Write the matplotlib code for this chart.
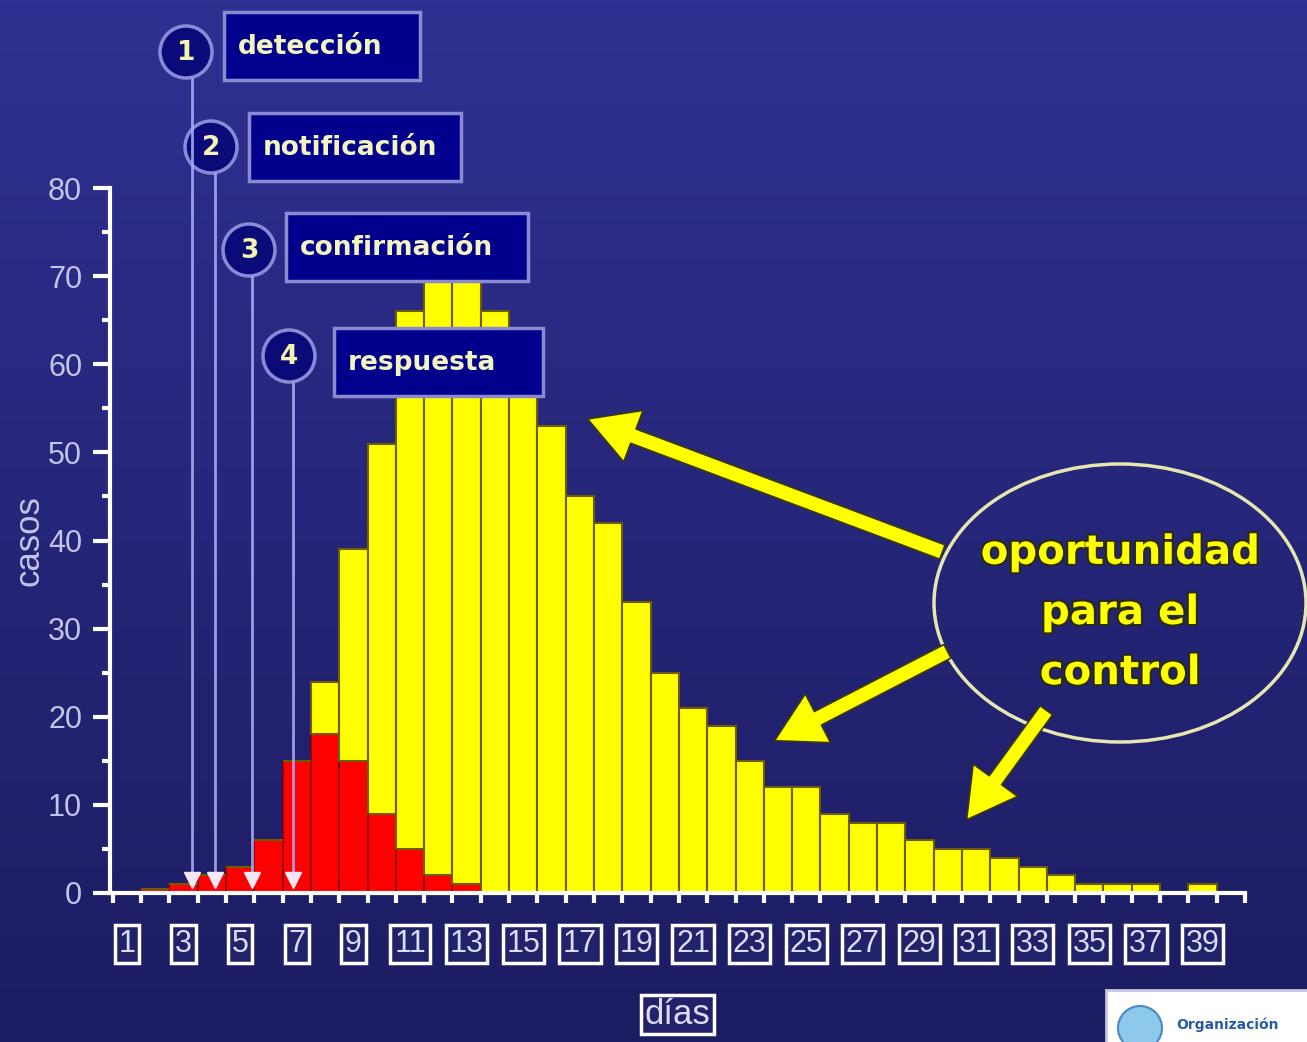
import matplotlib
matplotlib.use("Agg")
import matplotlib.pyplot as plt
import matplotlib.patches as mpatches
import matplotlib.patheffects as pe
import numpy as np

# datos: casos por dia
dias = list(range(1, 41))
casos_rojo = [0, 0.5, 1, 2, 3, 6, 15, 18, 15, 9, 5, 2, 1, 0, 0, 0, 0, 0, 0, 0,
              0, 0, 0, 0, 0, 0, 0, 0, 0, 0, 0, 0, 0, 0, 0, 0, 0, 0, 0, 0]
casos_total = [0, 0.5, 1, 2, 3, 6, 15, 24, 39, 51, 66, 71, 71, 66, 58, 53, 45, 42, 33, 25,
               21, 19, 15, 12, 12, 9, 8, 8, 6, 5, 5, 4, 3, 2, 1, 1, 1, 0, 1, 0]
casos_amarillo = [t - r for t, r in zip(casos_total, casos_rojo)]
etiquetas_x = [str(d) for d in range(1, 40, 2)]
pasos = ["detección", "notificación", "confirmación", "respuesta"]

W, H = 1307, 1042
fig = plt.figure(figsize=(W / 100, H / 100), dpi=100)

# fondo degradado
bg = fig.add_axes([0, 0, 1, 1], zorder=0)
grad = np.linspace(0, 1, 256).reshape(-1, 1)
top = np.array([0x30, 0x30, 0x92]) / 255
bot = np.array([0x1c, 0x1c, 0x62]) / 255
img = top[None, None, :] * (1 - grad[:, :, None]) + bot[None, None, :] * grad[:, :, None]
bg.imshow(img, aspect="auto", extent=[0, 1, 0, 1])
bg.axis("off")

# grafico principal
ax = fig.add_axes([110 / W, (H - 893) / H, (1245 - 110) / W, (893 - 188) / H], zorder=1)
ax.patch.set_alpha(0)
ax.bar(dias, casos_rojo, width=1.0, color="#ff0000", edgecolor="#8a0000", linewidth=1.2)
ax.bar(dias, casos_amarillo, bottom=casos_rojo, width=1.0, color="#ffff00",
       edgecolor="#6e5c00", linewidth=1.5)
ax.set_xlim(0.4, 40.37)
ax.set_ylim(0, 80)

for s in ["top", "right"]:
    ax.spines[s].set_visible(False)
for s in ["left", "bottom"]:
    ax.spines[s].set_color("white")
    ax.spines[s].set_linewidth(3)

ax.set_yticks(range(0, 81, 10))
ax.set_yticks(range(5, 80, 10), minor=True)
ax.tick_params(axis="y", which="major", colors="white", length=12, width=3,
               labelcolor="#c4c4e6", labelsize=22, pad=8)
ax.tick_params(axis="y", which="minor", colors="white", length=6, width=3)
for lab in ax.get_yticklabels():
    lab.set_family("Liberation Sans")

ax.set_xticks(range(1, 40, 2))
ax.set_xticklabels(etiquetas_x, family="Liberation Sans", fontsize=22, color="#dcdcf4",
                   bbox=dict(boxstyle="square,pad=0.12", fc="#22226a", ec="white", lw=2.5))
ax.set_xticks(np.arange(0.5, 40.6, 1), minor=True)
ax.tick_params(axis="x", which="major", length=0, pad=26)
ax.tick_params(axis="x", which="minor", colors="white", length=7, width=3)

ax.set_ylabel("casos", family="Liberation Sans", fontsize=25, color="#c4c4e6", labelpad=2)
ax.set_xlabel("días", family="Liberation Sans", fontsize=25, color="#dcdcf4", labelpad=28,
              bbox=dict(boxstyle="square,pad=0.1", fc="#22226a", ec="white", lw=2.5))

# capa de anotaciones en pixeles
ov = fig.add_axes([0, 0, 1, 1], zorder=2)
ov.set_xlim(0, W)
ov.set_ylim(H, 0)
ov.axis("off")

circ_c = [(186, 52), (211, 147), (249, 250), (289, 356)]
cajas = [(224, 12, 196), (249, 113, 212), (286, 213, 242), (334, 328, 209)]
lineas_x = [192, 215, 252, 293]
for i, paso in enumerate(pasos):
    cx, cy = circ_c[i]
    lx = lineas_x[i]
    ov.plot([lx, lx], [cy + 27, 880], color="#a8a8f2", lw=2, alpha=0.9)
    ov.plot(lx, 880, marker="v", ms=11, color="#f4e8f8", mec="#f4e8f8")
    ov.add_patch(mpatches.Circle((cx, cy), 26, fc="#0a0a78", ec="#8a8ad8", lw=2.5))
    ov.text(cx, cy + 1, str(i + 1), ha="center", va="center", fontsize=19,
            fontweight="bold", color="#f4f4b0")
    bx, by, bw = cajas[i]
    ov.add_patch(mpatches.Rectangle((bx, by), bw, 68, fc="#00008c", ec="#8a8ad0", lw=2.5))
    ov.text(bx + 14, by + 35, paso, ha="left", va="center", fontsize=19,
            color="#f4f4c0", fontweight="semibold")

# elipse y flechas
ov.add_patch(mpatches.Ellipse((1120, 603), 372, 278, fc="none", ec="#e6e6b0", lw=2.5))
outline = [pe.withStroke(linewidth=3, foreground="#2a2a10")]
ov.text(1120, 613, "oportunidad\npara el\ncontrol", ha="center", va="center",
        fontsize=29, fontweight="heavy", color="#ffff00", linespacing=1.65,
        path_effects=outline)

flechas = [((945, 553), (585, 418)), ((950, 650), (772, 742)), ((1048, 708), (965, 822))]
for (x0, y0), (x1, y1) in flechas:
    ov.annotate("", xy=(x1, y1), xytext=(x0, y0),
                arrowprops=dict(arrowstyle="simple,head_length=1.6,head_width=1.8,tail_width=0.5",
                                fc="#ffff00", ec="#3a3a10", lw=1.2, mutation_scale=22))

# logo
ov.add_patch(mpatches.Rectangle((1106, 990), 205, 60, fc="white", ec="#c8c8e0", lw=2))
ov.add_patch(mpatches.Circle((1140, 1028), 22, fc="#8ec8ec", ec="#4a8ac8", lw=1.5))
ov.text(1176, 1025, "Organización", fontsize=10, color="#2a5aa8", fontweight="bold",
        va="center")

fig.savefig("out.png", dpi=100)
